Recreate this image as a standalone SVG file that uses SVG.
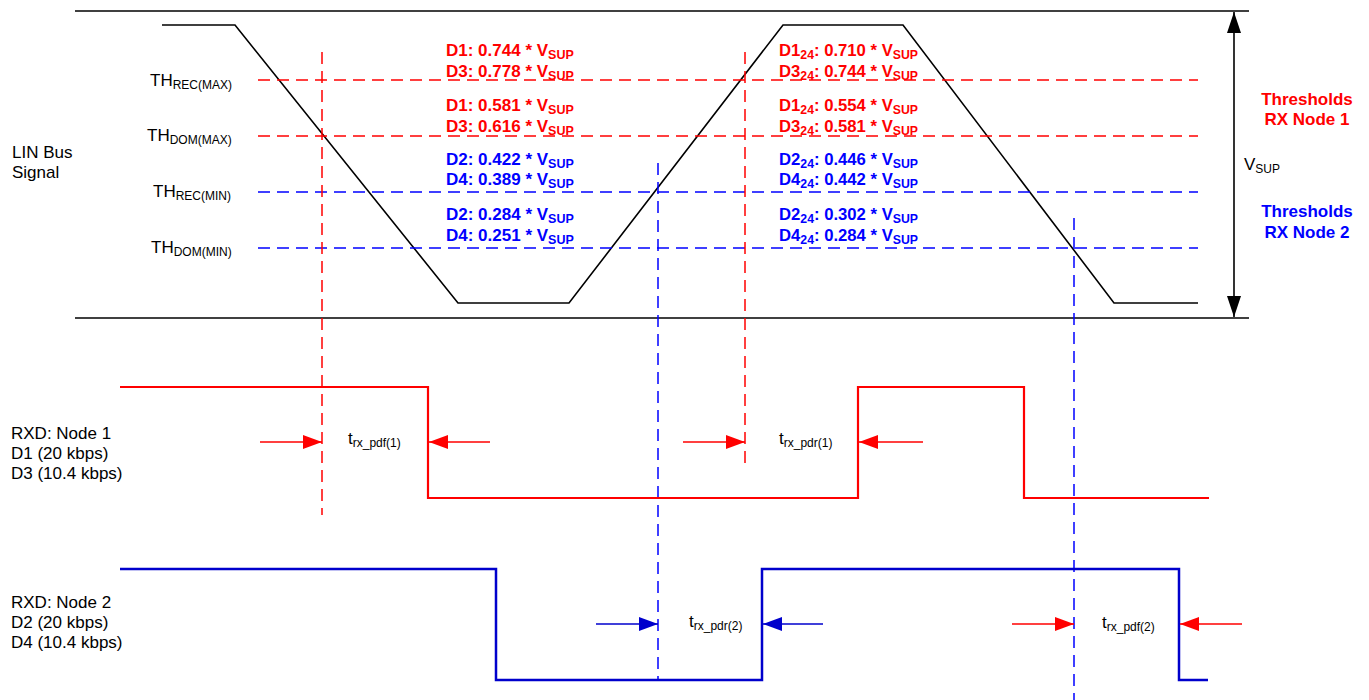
<svg xmlns="http://www.w3.org/2000/svg" width="1369" height="700" viewBox="0 0 1369 700">
<defs>
<marker id="arR" markerUnits="userSpaceOnUse" markerWidth="20" markerHeight="14" refX="19" refY="7" orient="auto"><path d="M0,0 L19,7 L0,14 Z" fill="#ff0000"/></marker>
<marker id="arB" markerUnits="userSpaceOnUse" markerWidth="20" markerHeight="14" refX="19" refY="7" orient="auto"><path d="M0,0 L19,7 L0,14 Z" fill="#0000cc"/></marker>
<marker id="arK" markerUnits="userSpaceOnUse" markerWidth="22" markerHeight="14" refX="21" refY="7" orient="auto-start-reverse"><path d="M0,0 L21,7 L0,14 Z" fill="#000"/></marker>
</defs>
<style>
text{font-family:"Liberation Sans",Arial,sans-serif;}
.lbl{font-size:17px;fill:#000;}
.sub{font-size:12px;}
.vr{font-size:17px;font-weight:bold;fill:#ff0000;}
.vb{font-size:17px;font-weight:bold;fill:#0000ff;}
.vs{font-size:12.5px;}
.nr{font-size:17px;font-weight:bold;fill:#ff0000;}
.nb{font-size:17px;font-weight:bold;fill:#0000ff;}
.thr{font-size:17px;font-weight:bold;}
.dr{stroke:#ff0000;stroke-width:1.5;stroke-dasharray:12,7;fill:none;}
.db{stroke:#0000ff;stroke-width:1.5;stroke-dasharray:12,7;fill:none;}
.trR{stroke:#ff0000;stroke-width:2.2;fill:none;}
.trB{stroke:#0000cc;stroke-width:2.5;fill:none;}
.blk{stroke:#000;stroke-width:1.6;fill:none;}
.aR{stroke:#ff0000;stroke-width:1.6;marker-end:url(#arR);}
.aB{stroke:#0000cc;stroke-width:1.6;marker-end:url(#arB);}
</style>
<rect width="1369" height="700" fill="#fff"/>

<g id="frame">
<line x1="75" y1="11" x2="1249" y2="11" class="blk"/>
<line x1="75" y1="318" x2="1249" y2="318" class="blk"/>
</g>

<g id="lin-signal">
<polyline points="162,25 235,25 458,303 569,303 783,25 903,25 1114,303 1198,303" class="blk" stroke-width="2"/>
</g>

<g id="threshold-lines">
<line x1="258" y1="80" x2="1198" y2="80" class="dr"/>
<line x1="258" y1="136" x2="1198" y2="136" class="dr"/>
<line x1="258" y1="192" x2="1198" y2="192" class="db"/>
<line x1="258" y1="248" x2="1198" y2="248" class="db"/>
</g>

<g id="vertical-markers">
<line x1="322" y1="52" x2="322" y2="515" class="dr"/>
<line x1="745" y1="52" x2="745" y2="470" class="dr"/>
<line x1="658" y1="163" x2="658" y2="680" class="db"/>
<line x1="1074" y1="218" x2="1074" y2="700" class="db"/>
</g>

<g id="threshold-labels">
<text class="lbl" x="150" y="86">TH<tspan class="sub" dy="3">REC(MAX)</tspan></text>
<text class="lbl" x="147" y="141">TH<tspan class="sub" dy="3">DOM(MAX)</tspan></text>
<text class="lbl" x="153" y="197">TH<tspan class="sub" dy="3">REC(MIN)</tspan></text>
<text class="lbl" x="151" y="253">TH<tspan class="sub" dy="3">DOM(MIN)</tspan></text>
</g>

<g id="lin-label">
<text class="lbl" x="12" y="158">LIN Bus</text>
<text class="lbl" x="12" y="178">Signal</text>
</g>

<g id="values-left">
<text class="vr" x="446" y="56">D1: 0.744 * V<tspan class="vs" dy="3">SUP</tspan></text>
<text class="vr" x="446" y="77">D3: 0.778 * V<tspan class="vs" dy="3">SUP</tspan></text>
<text class="vr" x="446" y="111">D1: 0.581 * V<tspan class="vs" dy="3">SUP</tspan></text>
<text class="vr" x="446" y="132">D3: 0.616 * V<tspan class="vs" dy="3">SUP</tspan></text>
<text class="vb" x="446" y="165">D2: 0.422 * V<tspan class="vs" dy="3">SUP</tspan></text>
<text class="vb" x="446" y="185">D4: 0.389 * V<tspan class="vs" dy="3">SUP</tspan></text>
<text class="vb" x="446" y="220">D2: 0.284 * V<tspan class="vs" dy="3">SUP</tspan></text>
<text class="vb" x="446" y="241">D4: 0.251 * V<tspan class="vs" dy="3">SUP</tspan></text>
</g>

<g id="values-right">
<text class="nr" x="779" y="56" textLength="139" lengthAdjust="spacingAndGlyphs">D1<tspan class="vs" dy="3">24</tspan><tspan dy="-3">: 0.710 * V</tspan><tspan class="vs" dy="3">SUP</tspan></text>
<text class="nr" x="779" y="77" textLength="139" lengthAdjust="spacingAndGlyphs">D3<tspan class="vs" dy="3">24</tspan><tspan dy="-3">: 0.744 * V</tspan><tspan class="vs" dy="3">SUP</tspan></text>
<text class="nr" x="779" y="111" textLength="139" lengthAdjust="spacingAndGlyphs">D1<tspan class="vs" dy="3">24</tspan><tspan dy="-3">: 0.554 * V</tspan><tspan class="vs" dy="3">SUP</tspan></text>
<text class="nr" x="779" y="132" textLength="139" lengthAdjust="spacingAndGlyphs">D3<tspan class="vs" dy="3">24</tspan><tspan dy="-3">: 0.581 * V</tspan><tspan class="vs" dy="3">SUP</tspan></text>
<text class="nb" x="779" y="165" textLength="139" lengthAdjust="spacingAndGlyphs">D2<tspan class="vs" dy="3">24</tspan><tspan dy="-3">: 0.446 * V</tspan><tspan class="vs" dy="3">SUP</tspan></text>
<text class="nb" x="779" y="185" textLength="139" lengthAdjust="spacingAndGlyphs">D4<tspan class="vs" dy="3">24</tspan><tspan dy="-3">: 0.442 * V</tspan><tspan class="vs" dy="3">SUP</tspan></text>
<text class="nb" x="779" y="220" textLength="139" lengthAdjust="spacingAndGlyphs">D2<tspan class="vs" dy="3">24</tspan><tspan dy="-3">: 0.302 * V</tspan><tspan class="vs" dy="3">SUP</tspan></text>
<text class="nb" x="779" y="241" textLength="139" lengthAdjust="spacingAndGlyphs">D4<tspan class="vs" dy="3">24</tspan><tspan dy="-3">: 0.284 * V</tspan><tspan class="vs" dy="3">SUP</tspan></text>
</g>

<g id="vsup">
<line x1="1234" y1="12" x2="1234" y2="317" stroke="#000" stroke-width="1.6" marker-start="url(#arK)" marker-end="url(#arK)"/>
<text class="lbl" x="1244" y="170">V<tspan class="sub" dy="3">SUP</tspan></text>
</g>

<g id="thresholds-node1">
<text class="thr" fill="#ff0000" x="1307" y="105" text-anchor="middle">Thresholds</text>
<text class="thr" fill="#ff0000" x="1307" y="125" text-anchor="middle">RX Node 1</text>
</g>
<g id="thresholds-node2">
<text class="thr" fill="#0000ff" x="1307" y="217" text-anchor="middle">Thresholds</text>
<text class="thr" fill="#0000ff" x="1307" y="238" text-anchor="middle">RX Node 2</text>
</g>

<g id="rxd-node1">
<polyline points="120,387 428,387 428,498 858,498 858,387 1024,387 1024,498 1209,498" class="trR"/>
<text class="lbl" x="11" y="439">RXD: Node 1</text>
<text class="lbl" x="11" y="459">D1 (20 kbps)</text>
<text class="lbl" x="11" y="479">D3 (10.4 kbps)</text>
<text class="lbl" x="348" y="444">t<tspan class="sub" dy="3">rx_pdf(1)</tspan></text>
<text class="lbl" x="779" y="444">t<tspan class="sub" dy="3">rx_pdr(1)</tspan></text>
</g>

<g id="rxd-node2">
<polyline points="120,569 496,569 496,680 762,680 762,569 1179,569 1179,680 1208,680" class="trB"/>
<text class="lbl" x="11" y="608">RXD: Node 2</text>
<text class="lbl" x="11" y="628">D2 (20 kbps)</text>
<text class="lbl" x="11" y="648">D4 (10.4 kbps)</text>
<text class="lbl" x="689" y="627">t<tspan class="sub" dy="3">rx_pdr(2)</tspan></text>
<text class="lbl" x="1102" y="628">t<tspan class="sub" dy="3">rx_pdf(2)</tspan></text>
</g>

<g id="connectors">
<line x1="260" y1="442" x2="322" y2="442" class="aR"/>
<line x1="490" y1="442" x2="429" y2="442" class="aR"/>
<line x1="683" y1="442" x2="745" y2="442" class="aR"/>
<line x1="923" y1="442" x2="859" y2="442" class="aR"/>
<line x1="596" y1="624" x2="658" y2="624" class="aB"/>
<line x1="823" y1="624" x2="763" y2="624" class="aB"/>
<line x1="1012" y1="624" x2="1074" y2="624" class="aR"/>
<line x1="1242" y1="624" x2="1180" y2="624" class="aR"/>
</g>
</svg>
